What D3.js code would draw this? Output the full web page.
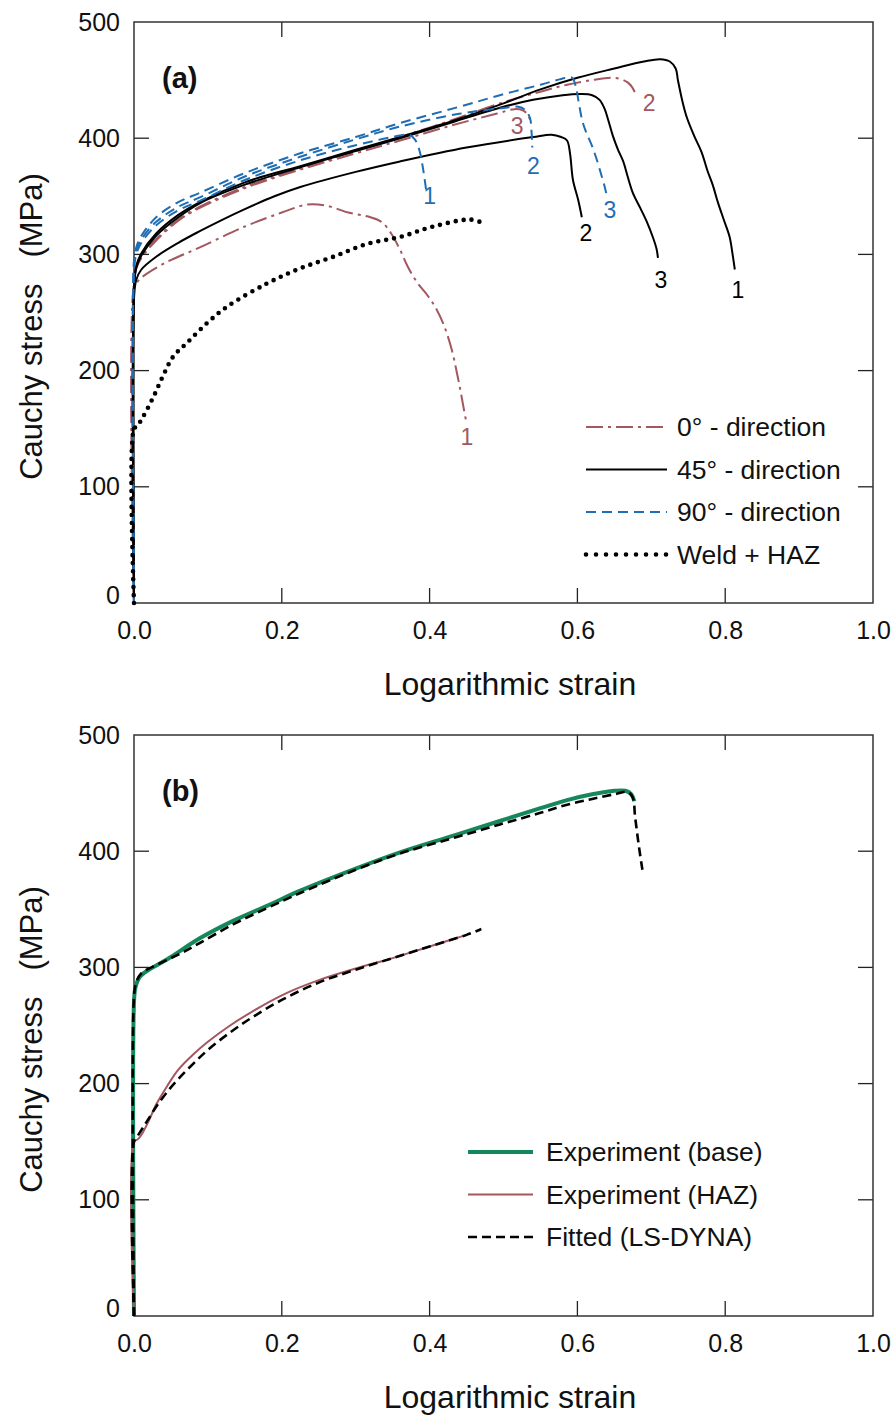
<!DOCTYPE html>
<html>
<head>
<meta charset="utf-8">
<script src="https://cdn.jsdelivr.net/npm/d3@7"></script>
<style>
  html, body { margin: 0; padding: 0; background: #fff; }
  svg { display: block; font-family: "Liberation Sans", Arial, Helvetica, sans-serif; }
</style>
</head>
<body>
<svg id="chart" width="894" height="1416"></svg>
<script>
// ---------------- DATA ----------------
const xTicks = [0, 0.2, 0.4, 0.6, 0.8, 1.0];
const yTicks = [0, 100, 200, 300, 400, 500];

// Panel (a) : 0° direction (dash-dot)
const dir0_1 = [[0,0],[0,272],[0.004,276],[0.01,280],[0.04,292],[0.089,306],[0.15,324],[0.2,336],[0.235,343],[0.26,342],[0.29,336],[0.32,332],[0.335,328],[0.348,318],[0.36,304],[0.37,290],[0.383,276],[0.398,264],[0.41,252],[0.42,238],[0.43,218],[0.437,198],[0.442,182],[0.446,168],[0.449,158]];
const dir0_2 = [[0,0],[0,275],[0.003,290],[0.01,298],[0.03,313],[0.06,330],[0.089,341],[0.15,358],[0.225,374],[0.3,389],[0.36,401],[0.428,415],[0.495,430],[0.55,440],[0.586,446],[0.62,450],[0.645,452],[0.658,451],[0.668,448],[0.674,444],[0.678,439]];
const dir0_3 = [[0,0],[0,275],[0.003,288],[0.01,297],[0.03,312],[0.06,329],[0.089,340],[0.15,357],[0.225,373],[0.3,387],[0.36,398],[0.43,411],[0.49,421],[0.515,425],[0.526,424],[0.532,421],[0.536,416]];
// 45° direction (solid)
const dir45_1 = [[0,0],[0,270],[0.003,290],[0.01,301],[0.03,318],[0.06,334],[0.089,345],[0.15,362],[0.225,376],[0.3,390],[0.36,401],[0.432,415],[0.5,430],[0.55,442],[0.6,452],[0.65,460],[0.69,466],[0.712,468],[0.725,466],[0.733,460],[0.736,450],[0.742,432],[0.748,418],[0.758,402],[0.768,388],[0.776,372],[0.783,360],[0.79,345],[0.798,330],[0.806,315],[0.81,300],[0.813,287]];
const dir45_2 = [[0,0],[0,262],[0.003,278],[0.01,287],[0.03,298],[0.06,310],[0.089,320],[0.12,330],[0.15,339],[0.19,350],[0.225,358],[0.3,371],[0.36,380],[0.45,392],[0.54,401],[0.565,403],[0.578,401],[0.586,398],[0.59,387],[0.594,364],[0.601,347],[0.606,332]];
const dir45_3 = [[0,0],[0,270],[0.003,288],[0.01,299],[0.03,316],[0.06,332],[0.089,344],[0.15,360],[0.225,375],[0.3,389],[0.36,400],[0.432,414],[0.5,427],[0.54,433],[0.58,437],[0.605,438],[0.62,437],[0.63,433],[0.637,425],[0.642,415],[0.648,402],[0.655,390],[0.662,380],[0.668,367],[0.675,353],[0.685,340],[0.694,328],[0.702,315],[0.707,305],[0.709,297]];
// 90° direction (dashed)
const dir90_1 = [[0,0],[0,285],[0.003,300],[0.01,310],[0.03,325],[0.06,338],[0.089,346],[0.15,364],[0.225,381],[0.3,394],[0.35,401],[0.372,403],[0.38,399],[0.386,390],[0.39,378],[0.393,366],[0.396,352]];
const dir90_2 = [[0,0],[0,290],[0.003,303],[0.01,313],[0.03,328],[0.06,341],[0.089,349],[0.15,367],[0.225,384],[0.3,399],[0.36,410],[0.44,421],[0.5,426],[0.52,427],[0.53,424],[0.536,417],[0.538,405],[0.539,392]];
const dir90_3 = [[0,0],[0,295],[0.003,306],[0.01,316],[0.03,332],[0.06,345],[0.089,353],[0.15,370],[0.225,387],[0.3,401],[0.36,413],[0.44,427],[0.495,437],[0.55,446],[0.585,452],[0.593,452],[0.598,444],[0.602,430],[0.607,414],[0.612,405],[0.62,393],[0.627,380],[0.633,367],[0.637,358],[0.64,350]];
// Weld + HAZ (dotted)
const weldHaz = [[0,0],[0,150],[0.004,152],[0.012,160],[0.026,177],[0.039,195],[0.053,212],[0.072,224],[0.099,241],[0.126,255],[0.18,275],[0.225,288],[0.27,298],[0.315,309],[0.36,315],[0.405,324],[0.455,330],[0.472,327]];

// Panel (b)
const expBase = [[0,0],[0,270],[0.002,283],[0.008,292],[0.02,298],[0.045,307],[0.089,325],[0.134,340],[0.18,353],[0.225,366],[0.3,385],[0.36,399],[0.43,413],[0.495,426],[0.55,437],[0.586,444],[0.62,449],[0.65,452],[0.665,452],[0.673,449],[0.677,443]];
const fitBase = [[0,0],[0,275],[0.003,287],[0.01,295],[0.03,302],[0.06,311],[0.089,321],[0.134,337],[0.18,351],[0.225,364],[0.3,384],[0.36,398],[0.43,411],[0.495,423],[0.55,433],[0.586,440],[0.62,445],[0.65,449],[0.668,451],[0.675,446],[0.678,430],[0.682,410],[0.686,392],[0.688,384]];
const expHaz = [[0,0],[0,150],[0.005,152],[0.012,158],[0.02,168],[0.03,182],[0.045,198],[0.06,212],[0.08,225],[0.1,236],[0.13,250],[0.16,262],[0.2,276],[0.25,289],[0.3,299],[0.35,308],[0.4,318],[0.45,328]];
const fitHaz = [[0,0],[0,150],[0.005,155],[0.012,162],[0.02,170],[0.03,180],[0.045,193],[0.06,204],[0.08,217],[0.1,229],[0.13,244],[0.16,257],[0.2,272],[0.25,287],[0.3,298],[0.35,308],[0.4,318],[0.45,328],[0.47,333]];

const legendA = ["0° - direction", "45° - direction", "90° - direction", "Weld + HAZ"];
const legendB = ["Experiment (base)", "Experiment (HAZ)", "Fitted (LS-DYNA)"];
const curveLabelsA = ["1", "2", "3"];

// ---------------- STYLES ----------------
const BROWN = "#a3575f", BLUE = "#1f6db3", BLACK = "#000", GREEN = "#15875a";
const styles = {
  dir0:  {stroke: BROWN, width: 2,   dash: "17,5,3,5"},
  dir45: {stroke: BLACK, width: 2,   dash: null},
  dir90: {stroke: BLUE,  width: 2,   dash: "10,6"},
  weld:  {stroke: BLACK, width: 4.6, dash: "0,8", cap: "round"},
  base:  {stroke: GREEN, width: 4,   dash: null},
  haz:   {stroke: BROWN, width: 2,   dash: null},
  fit:   {stroke: BLACK, width: 2.6, dash: "9,5"}
};

const svg = d3.select("#chart");
const FONT = "'Liberation Sans', Arial, Helvetica, sans-serif";

function panel(top, bottom, letter) {
  const x = d3.scaleLinear().domain([0, 1]).range([134, 873]);
  const y = d3.scaleLinear().domain([0, 500]).range([bottom, top]);
  const g = svg.append("g");

  const inner = xTicks.slice(1, -1), innerY = yTicks.slice(1, -1);
  const bx = g.append("g").attr("transform", `translate(0,${bottom})`)
    .call(d3.axisBottom(x).tickValues(xTicks).tickFormat(d3.format(".1f")).tickSizeInner(0).tickSizeOuter(0).tickPadding(18));
  const ly = g.append("g").attr("transform", `translate(134,0)`)
    .call(d3.axisLeft(y).tickValues(yTicks).tickFormat(d3.format("d")).tickSizeInner(0).tickSizeOuter(0).tickPadding(14));
  [bx, ly].forEach(a => { a.select(".domain").remove(); a.selectAll("text").attr("font-size", 25).attr("font-family", FONT).attr("fill", "#111"); });
  ly.selectAll(".tick").filter(d => d === 0).select("text").attr("dy", "0.0em");

  const tk = g.append("g").attr("stroke", "#222").attr("stroke-width", 1.3);
  tk.selectAll(".tb").data(inner).join("line").attr("x1", d => x(d)).attr("x2", d => x(d)).attr("y1", bottom).attr("y2", bottom - 15);
  tk.selectAll(".tt").data(inner).join("line").attr("x1", d => x(d)).attr("x2", d => x(d)).attr("y1", top).attr("y2", top + 15);
  tk.selectAll(".tl").data(innerY).join("line").attr("y1", d => y(d)).attr("y2", d => y(d)).attr("x1", 134).attr("x2", 149);
  tk.selectAll(".tr").data(innerY).join("line").attr("y1", d => y(d)).attr("y2", d => y(d)).attr("x1", 873).attr("x2", 858);
  g.append("rect").attr("x", 134).attr("y", top).attr("width", 739).attr("height", bottom - top)
    .attr("fill", "none").attr("stroke", "#333").attr("stroke-width", 1.5);

  g.append("text").attr("x", 510).attr("y", bottom + 92).attr("text-anchor", "middle")
    .attr("font-size", 32).attr("font-family", FONT).attr("fill", "#111").text("Logarithmic strain");
  g.append("text").attr("transform", `translate(42,${(top + bottom) / 2 + 14}) rotate(-90)`)
    .attr("text-anchor", "middle").attr("font-size", 31).attr("font-family", FONT).attr("fill", "#111")
    .style("white-space", "pre").text("Cauchy stress   (MPa)");
  g.append("text").attr("x", 162).attr("y", top + 66).attr("font-size", 29).attr("font-weight", "bold")
    .attr("font-family", FONT).attr("fill", "#111").text(letter);
  return {x, y, g};
}

function drawLine(p, data, st) {
  const line = d3.line().x(d => p.x(d[0])).y(d => p.y(d[1])).curve(d3.curveCatmullRom.alpha(0.5));
  p.g.append("path").datum(data).attr("d", line).attr("fill", "none")
    .attr("stroke", st.stroke).attr("stroke-width", st.width)
    .attr("stroke-dasharray", st.dash).attr("stroke-linecap", st.cap || "butt").attr("stroke-linejoin", "round");
}

function endLabel(p, data, txt, color, dx, dy) {
  const last = data[data.length - 1];
  p.g.append("text").attr("x", p.x(last[0]) + dx).attr("y", p.y(last[1]) + dy)
    .attr("text-anchor", "middle").attr("dominant-baseline", "central")
    .attr("font-size", 23).attr("font-family", FONT).attr("fill", color).text(txt);
}

function legend(p, items, x0, x1, tx, y0, step) {
  items.forEach((it, i) => {
    const yy = y0 + i * step;
    p.g.append("line").attr("x1", x0).attr("x2", x1).attr("y1", yy).attr("y2", yy)
      .attr("stroke", it.st.stroke).attr("stroke-width", it.st.width)
      .attr("stroke-dasharray", it.st.dash).attr("stroke-linecap", it.st.cap || "butt");
    p.g.append("text").attr("x", tx).attr("y", yy).attr("dominant-baseline", "central")
      .attr("font-size", 26.5).attr("font-family", FONT).attr("fill", "#111").text(it.label);
  });
}

// ---------------- PANEL A ----------------
const A = panel(22, 603, "(a)");
[dir0_1, dir0_2, dir0_3].forEach(d => drawLine(A, d, styles.dir0));
[dir45_1, dir45_2, dir45_3].forEach(d => drawLine(A, d, styles.dir45));
[dir90_1, dir90_2, dir90_3].forEach(d => drawLine(A, d, styles.dir90));
drawLine(A, weldHaz, styles.weld);

endLabel(A, dir45_1, curveLabelsA[0], BLACK, 3, 20);
endLabel(A, dir45_2, curveLabelsA[1], BLACK, 4, 16);
endLabel(A, dir45_3, curveLabelsA[2], BLACK, 3, 22);
endLabel(A, dir0_1, curveLabelsA[0], BROWN, 1, 18);
endLabel(A, dir0_2, curveLabelsA[1], BROWN, 14, 10);
endLabel(A, dir0_3, curveLabelsA[2], BROWN, -13, 6);
endLabel(A, dir90_1, curveLabelsA[0], BLUE, 3, 2);
endLabel(A, dir90_2, curveLabelsA[1], BLUE, 1, 19);
endLabel(A, dir90_3, curveLabelsA[2], BLUE, 3, 14);

legend(A, [
  {label: legendA[0], st: styles.dir0},
  {label: legendA[1], st: styles.dir45},
  {label: legendA[2], st: styles.dir90},
  {label: legendA[3], st: {stroke: BLACK, width: 4.6, dash: "0,10", cap: "round"}}
], 586, 667, 677, 427, 42.5);

// ---------------- PANEL B ----------------
const B = panel(735, 1316, "(b)");
drawLine(B, expBase, styles.base);
drawLine(B, expHaz, styles.haz);
drawLine(B, fitBase, styles.fit);
drawLine(B, fitHaz, styles.fit);

legend(B, [
  {label: legendB[0], st: styles.base},
  {label: legendB[1], st: styles.haz},
  {label: legendB[2], st: styles.fit}
], 468, 533, 546, 1152, 42.5);
</script>
</body>
</html>
